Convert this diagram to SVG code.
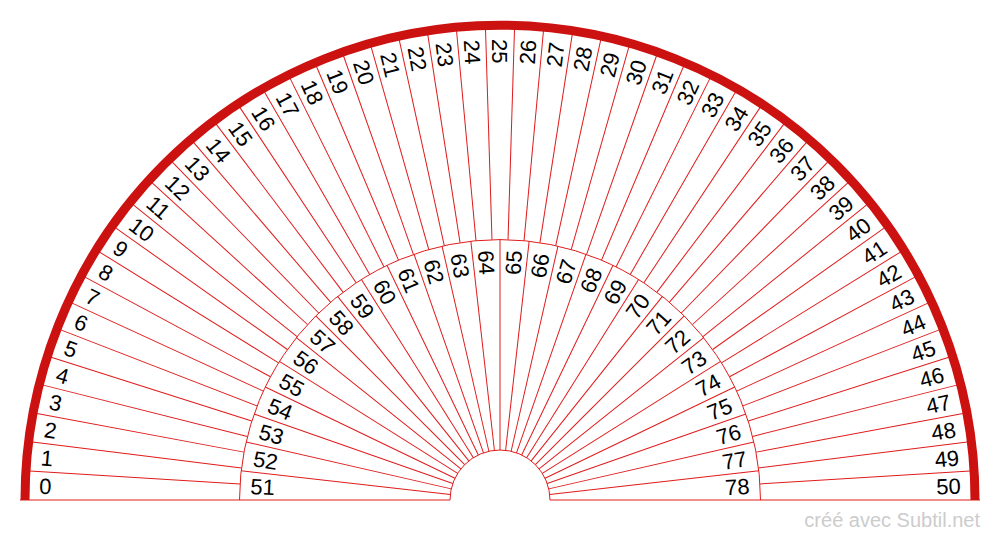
<svg xmlns="http://www.w3.org/2000/svg" width="1000" height="540" viewBox="0 0 1000 540">
<style>
.ln{stroke:#e01b1b;stroke-width:1;fill:none}
.arc{stroke:#e01b1b;stroke-width:1;fill:none}
.rim{stroke:#cc1111;stroke-width:9;fill:none}
.t{font-family:"Liberation Sans",Arial,sans-serif;font-size:22px;fill:#000}
.l{text-anchor:start}
.r{text-anchor:end}
.wm{font-family:"Liberation Sans",Arial,sans-serif;font-size:20px;fill:#cccccc;text-anchor:end}
</style>
<rect width="1000" height="540" fill="#fff"/>
<g id="arcs">
<path class="arc" d="M 239.5 500 A 260.5 260.5 0 0 1 760.5 500"/>
<path class="arc" d="M 450 500 A 50 50 0 0 1 550 500"/>
<line class="ln" x1="20" y1="500" x2="450" y2="500"/>
<line class="ln" x1="550" y1="500" x2="980" y2="500"/>
</g>
<g id="connectors">
<g id="outer-lines">
<line class="ln" x1="29" y1="500" x2="239.5" y2="500" transform="rotate(3.5294 500 500)"/>
<line class="ln" x1="29" y1="500" x2="239.5" y2="500" transform="rotate(7.0588 500 500)"/>
<line class="ln" x1="29" y1="500" x2="239.5" y2="500" transform="rotate(10.5882 500 500)"/>
<line class="ln" x1="29" y1="500" x2="239.5" y2="500" transform="rotate(14.1176 500 500)"/>
<line class="ln" x1="29" y1="500" x2="239.5" y2="500" transform="rotate(17.6471 500 500)"/>
<line class="ln" x1="29" y1="500" x2="239.5" y2="500" transform="rotate(21.1765 500 500)"/>
<line class="ln" x1="29" y1="500" x2="239.5" y2="500" transform="rotate(24.7059 500 500)"/>
<line class="ln" x1="29" y1="500" x2="239.5" y2="500" transform="rotate(28.2353 500 500)"/>
<line class="ln" x1="29" y1="500" x2="239.5" y2="500" transform="rotate(31.7647 500 500)"/>
<line class="ln" x1="29" y1="500" x2="239.5" y2="500" transform="rotate(35.2941 500 500)"/>
<line class="ln" x1="29" y1="500" x2="239.5" y2="500" transform="rotate(38.8235 500 500)"/>
<line class="ln" x1="29" y1="500" x2="239.5" y2="500" transform="rotate(42.3529 500 500)"/>
<line class="ln" x1="29" y1="500" x2="239.5" y2="500" transform="rotate(45.8824 500 500)"/>
<line class="ln" x1="29" y1="500" x2="239.5" y2="500" transform="rotate(49.4118 500 500)"/>
<line class="ln" x1="29" y1="500" x2="239.5" y2="500" transform="rotate(52.9412 500 500)"/>
<line class="ln" x1="29" y1="500" x2="239.5" y2="500" transform="rotate(56.4706 500 500)"/>
<line class="ln" x1="29" y1="500" x2="239.5" y2="500" transform="rotate(60 500 500)"/>
<line class="ln" x1="29" y1="500" x2="239.5" y2="500" transform="rotate(63.5294 500 500)"/>
<line class="ln" x1="29" y1="500" x2="239.5" y2="500" transform="rotate(67.0588 500 500)"/>
<line class="ln" x1="29" y1="500" x2="239.5" y2="500" transform="rotate(70.5882 500 500)"/>
<line class="ln" x1="29" y1="500" x2="239.5" y2="500" transform="rotate(74.1176 500 500)"/>
<line class="ln" x1="29" y1="500" x2="239.5" y2="500" transform="rotate(77.6471 500 500)"/>
<line class="ln" x1="29" y1="500" x2="239.5" y2="500" transform="rotate(81.1765 500 500)"/>
<line class="ln" x1="29" y1="500" x2="239.5" y2="500" transform="rotate(84.7059 500 500)"/>
<line class="ln" x1="29" y1="500" x2="239.5" y2="500" transform="rotate(88.2353 500 500)"/>
<line class="ln" x1="29" y1="500" x2="239.5" y2="500" transform="rotate(91.7647 500 500)"/>
<line class="ln" x1="29" y1="500" x2="239.5" y2="500" transform="rotate(95.2941 500 500)"/>
<line class="ln" x1="29" y1="500" x2="239.5" y2="500" transform="rotate(98.8235 500 500)"/>
<line class="ln" x1="29" y1="500" x2="239.5" y2="500" transform="rotate(102.3529 500 500)"/>
<line class="ln" x1="29" y1="500" x2="239.5" y2="500" transform="rotate(105.8824 500 500)"/>
<line class="ln" x1="29" y1="500" x2="239.5" y2="500" transform="rotate(109.4118 500 500)"/>
<line class="ln" x1="29" y1="500" x2="239.5" y2="500" transform="rotate(112.9412 500 500)"/>
<line class="ln" x1="29" y1="500" x2="239.5" y2="500" transform="rotate(116.4706 500 500)"/>
<line class="ln" x1="29" y1="500" x2="239.5" y2="500" transform="rotate(120 500 500)"/>
<line class="ln" x1="29" y1="500" x2="239.5" y2="500" transform="rotate(123.5294 500 500)"/>
<line class="ln" x1="29" y1="500" x2="239.5" y2="500" transform="rotate(127.0588 500 500)"/>
<line class="ln" x1="29" y1="500" x2="239.5" y2="500" transform="rotate(130.5882 500 500)"/>
<line class="ln" x1="29" y1="500" x2="239.5" y2="500" transform="rotate(134.1176 500 500)"/>
<line class="ln" x1="29" y1="500" x2="239.5" y2="500" transform="rotate(137.6471 500 500)"/>
<line class="ln" x1="29" y1="500" x2="239.5" y2="500" transform="rotate(141.1765 500 500)"/>
<line class="ln" x1="29" y1="500" x2="239.5" y2="500" transform="rotate(144.7059 500 500)"/>
<line class="ln" x1="29" y1="500" x2="239.5" y2="500" transform="rotate(148.2353 500 500)"/>
<line class="ln" x1="29" y1="500" x2="239.5" y2="500" transform="rotate(151.7647 500 500)"/>
<line class="ln" x1="29" y1="500" x2="239.5" y2="500" transform="rotate(155.2941 500 500)"/>
<line class="ln" x1="29" y1="500" x2="239.5" y2="500" transform="rotate(158.8235 500 500)"/>
<line class="ln" x1="29" y1="500" x2="239.5" y2="500" transform="rotate(162.3529 500 500)"/>
<line class="ln" x1="29" y1="500" x2="239.5" y2="500" transform="rotate(165.8824 500 500)"/>
<line class="ln" x1="29" y1="500" x2="239.5" y2="500" transform="rotate(169.4118 500 500)"/>
<line class="ln" x1="29" y1="500" x2="239.5" y2="500" transform="rotate(172.9412 500 500)"/>
<line class="ln" x1="29" y1="500" x2="239.5" y2="500" transform="rotate(176.4706 500 500)"/>
</g>
<g id="inner-lines">
<line class="ln" x1="239.5" y1="500" x2="450" y2="500" transform="rotate(6.4286 500 500)"/>
<line class="ln" x1="239.5" y1="500" x2="450" y2="500" transform="rotate(12.8571 500 500)"/>
<line class="ln" x1="239.5" y1="500" x2="450" y2="500" transform="rotate(19.2857 500 500)"/>
<line class="ln" x1="239.5" y1="500" x2="450" y2="500" transform="rotate(25.7143 500 500)"/>
<line class="ln" x1="239.5" y1="500" x2="450" y2="500" transform="rotate(32.1429 500 500)"/>
<line class="ln" x1="239.5" y1="500" x2="450" y2="500" transform="rotate(38.5714 500 500)"/>
<line class="ln" x1="239.5" y1="500" x2="450" y2="500" transform="rotate(45 500 500)"/>
<line class="ln" x1="239.5" y1="500" x2="450" y2="500" transform="rotate(51.4286 500 500)"/>
<line class="ln" x1="239.5" y1="500" x2="450" y2="500" transform="rotate(57.8571 500 500)"/>
<line class="ln" x1="239.5" y1="500" x2="450" y2="500" transform="rotate(64.2857 500 500)"/>
<line class="ln" x1="239.5" y1="500" x2="450" y2="500" transform="rotate(70.7143 500 500)"/>
<line class="ln" x1="239.5" y1="500" x2="450" y2="500" transform="rotate(77.1429 500 500)"/>
<line class="ln" x1="239.5" y1="500" x2="450" y2="500" transform="rotate(83.5714 500 500)"/>
<line class="ln" x1="239.5" y1="500" x2="450" y2="500" transform="rotate(90 500 500)"/>
<line class="ln" x1="239.5" y1="500" x2="450" y2="500" transform="rotate(96.4286 500 500)"/>
<line class="ln" x1="239.5" y1="500" x2="450" y2="500" transform="rotate(102.8571 500 500)"/>
<line class="ln" x1="239.5" y1="500" x2="450" y2="500" transform="rotate(109.2857 500 500)"/>
<line class="ln" x1="239.5" y1="500" x2="450" y2="500" transform="rotate(115.7143 500 500)"/>
<line class="ln" x1="239.5" y1="500" x2="450" y2="500" transform="rotate(122.1429 500 500)"/>
<line class="ln" x1="239.5" y1="500" x2="450" y2="500" transform="rotate(128.5714 500 500)"/>
<line class="ln" x1="239.5" y1="500" x2="450" y2="500" transform="rotate(135 500 500)"/>
<line class="ln" x1="239.5" y1="500" x2="450" y2="500" transform="rotate(141.4286 500 500)"/>
<line class="ln" x1="239.5" y1="500" x2="450" y2="500" transform="rotate(147.8571 500 500)"/>
<line class="ln" x1="239.5" y1="500" x2="450" y2="500" transform="rotate(154.2857 500 500)"/>
<line class="ln" x1="239.5" y1="500" x2="450" y2="500" transform="rotate(160.7143 500 500)"/>
<line class="ln" x1="239.5" y1="500" x2="450" y2="500" transform="rotate(167.1429 500 500)"/>
<line class="ln" x1="239.5" y1="500" x2="450" y2="500" transform="rotate(173.5714 500 500)"/>
</g>
</g>
<g id="rim">
<path class="rim" d="M 25 500 A 475 475 0 0 1 975 500"/>
</g>
<g id="outer-labels" class="t">
<text class="l" x="39" y="500" dy="0.36em" transform="rotate(1.7647 500 500)">0</text>
<text class="l" x="39" y="500" dy="0.36em" transform="rotate(5.2941 500 500)">1</text>
<text class="l" x="39" y="500" dy="0.36em" transform="rotate(8.8235 500 500)">2</text>
<text class="l" x="39" y="500" dy="0.36em" transform="rotate(12.3529 500 500)">3</text>
<text class="l" x="39" y="500" dy="0.36em" transform="rotate(15.8824 500 500)">4</text>
<text class="l" x="39" y="500" dy="0.36em" transform="rotate(19.4118 500 500)">5</text>
<text class="l" x="39" y="500" dy="0.36em" transform="rotate(22.9412 500 500)">6</text>
<text class="l" x="39" y="500" dy="0.36em" transform="rotate(26.4706 500 500)">7</text>
<text class="l" x="39" y="500" dy="0.36em" transform="rotate(30 500 500)">8</text>
<text class="l" x="39" y="500" dy="0.36em" transform="rotate(33.5294 500 500)">9</text>
<text class="l" x="39" y="500" dy="0.36em" transform="rotate(37.0588 500 500)">10</text>
<text class="l" x="39" y="500" dy="0.36em" transform="rotate(40.5882 500 500)">11</text>
<text class="l" x="39" y="500" dy="0.36em" transform="rotate(44.1176 500 500)">12</text>
<text class="l" x="39" y="500" dy="0.36em" transform="rotate(47.6471 500 500)">13</text>
<text class="l" x="39" y="500" dy="0.36em" transform="rotate(51.1765 500 500)">14</text>
<text class="l" x="39" y="500" dy="0.36em" transform="rotate(54.7059 500 500)">15</text>
<text class="l" x="39" y="500" dy="0.36em" transform="rotate(58.2353 500 500)">16</text>
<text class="l" x="39" y="500" dy="0.36em" transform="rotate(61.7647 500 500)">17</text>
<text class="l" x="39" y="500" dy="0.36em" transform="rotate(65.2941 500 500)">18</text>
<text class="l" x="39" y="500" dy="0.36em" transform="rotate(68.8235 500 500)">19</text>
<text class="l" x="39" y="500" dy="0.36em" transform="rotate(72.3529 500 500)">20</text>
<text class="l" x="39" y="500" dy="0.36em" transform="rotate(75.8824 500 500)">21</text>
<text class="l" x="39" y="500" dy="0.36em" transform="rotate(79.4118 500 500)">22</text>
<text class="l" x="39" y="500" dy="0.36em" transform="rotate(82.9412 500 500)">23</text>
<text class="l" x="39" y="500" dy="0.36em" transform="rotate(86.4706 500 500)">24</text>
<text class="l" x="39" y="500" dy="0.36em" transform="rotate(90 500 500)">25</text>
<text class="r" x="961" y="500" dy="0.36em" transform="rotate(-86.4706 500 500)">26</text>
<text class="r" x="961" y="500" dy="0.36em" transform="rotate(-82.9412 500 500)">27</text>
<text class="r" x="961" y="500" dy="0.36em" transform="rotate(-79.4118 500 500)">28</text>
<text class="r" x="961" y="500" dy="0.36em" transform="rotate(-75.8824 500 500)">29</text>
<text class="r" x="961" y="500" dy="0.36em" transform="rotate(-72.3529 500 500)">30</text>
<text class="r" x="961" y="500" dy="0.36em" transform="rotate(-68.8235 500 500)">31</text>
<text class="r" x="961" y="500" dy="0.36em" transform="rotate(-65.2941 500 500)">32</text>
<text class="r" x="961" y="500" dy="0.36em" transform="rotate(-61.7647 500 500)">33</text>
<text class="r" x="961" y="500" dy="0.36em" transform="rotate(-58.2353 500 500)">34</text>
<text class="r" x="961" y="500" dy="0.36em" transform="rotate(-54.7059 500 500)">35</text>
<text class="r" x="961" y="500" dy="0.36em" transform="rotate(-51.1765 500 500)">36</text>
<text class="r" x="961" y="500" dy="0.36em" transform="rotate(-47.6471 500 500)">37</text>
<text class="r" x="961" y="500" dy="0.36em" transform="rotate(-44.1176 500 500)">38</text>
<text class="r" x="961" y="500" dy="0.36em" transform="rotate(-40.5882 500 500)">39</text>
<text class="r" x="961" y="500" dy="0.36em" transform="rotate(-37.0588 500 500)">40</text>
<text class="r" x="961" y="500" dy="0.36em" transform="rotate(-33.5294 500 500)">41</text>
<text class="r" x="961" y="500" dy="0.36em" transform="rotate(-30 500 500)">42</text>
<text class="r" x="961" y="500" dy="0.36em" transform="rotate(-26.4706 500 500)">43</text>
<text class="r" x="961" y="500" dy="0.36em" transform="rotate(-22.9412 500 500)">44</text>
<text class="r" x="961" y="500" dy="0.36em" transform="rotate(-19.4118 500 500)">45</text>
<text class="r" x="961" y="500" dy="0.36em" transform="rotate(-15.8824 500 500)">46</text>
<text class="r" x="961" y="500" dy="0.36em" transform="rotate(-12.3529 500 500)">47</text>
<text class="r" x="961" y="500" dy="0.36em" transform="rotate(-8.8235 500 500)">48</text>
<text class="r" x="961" y="500" dy="0.36em" transform="rotate(-5.2941 500 500)">49</text>
<text class="r" x="961" y="500" dy="0.36em" transform="rotate(-1.7647 500 500)">50</text>
</g>
<g id="inner-labels" class="t">
<text class="l" x="250" y="500" dy="0.36em" transform="rotate(3.2143 500 500)">51</text>
<text class="l" x="250" y="500" dy="0.36em" transform="rotate(9.6429 500 500)">52</text>
<text class="l" x="250" y="500" dy="0.36em" transform="rotate(16.0714 500 500)">53</text>
<text class="l" x="250" y="500" dy="0.36em" transform="rotate(22.5 500 500)">54</text>
<text class="l" x="250" y="500" dy="0.36em" transform="rotate(28.9286 500 500)">55</text>
<text class="l" x="250" y="500" dy="0.36em" transform="rotate(35.3571 500 500)">56</text>
<text class="l" x="250" y="500" dy="0.36em" transform="rotate(41.7857 500 500)">57</text>
<text class="l" x="250" y="500" dy="0.36em" transform="rotate(48.2143 500 500)">58</text>
<text class="l" x="250" y="500" dy="0.36em" transform="rotate(54.6429 500 500)">59</text>
<text class="l" x="250" y="500" dy="0.36em" transform="rotate(61.0714 500 500)">60</text>
<text class="l" x="250" y="500" dy="0.36em" transform="rotate(67.5 500 500)">61</text>
<text class="l" x="250" y="500" dy="0.36em" transform="rotate(73.9286 500 500)">62</text>
<text class="l" x="250" y="500" dy="0.36em" transform="rotate(80.3571 500 500)">63</text>
<text class="l" x="250" y="500" dy="0.36em" transform="rotate(86.7857 500 500)">64</text>
<text class="r" x="750" y="500" dy="0.36em" transform="rotate(-86.7857 500 500)">65</text>
<text class="r" x="750" y="500" dy="0.36em" transform="rotate(-80.3571 500 500)">66</text>
<text class="r" x="750" y="500" dy="0.36em" transform="rotate(-73.9286 500 500)">67</text>
<text class="r" x="750" y="500" dy="0.36em" transform="rotate(-67.5 500 500)">68</text>
<text class="r" x="750" y="500" dy="0.36em" transform="rotate(-61.0714 500 500)">69</text>
<text class="r" x="750" y="500" dy="0.36em" transform="rotate(-54.6429 500 500)">70</text>
<text class="r" x="750" y="500" dy="0.36em" transform="rotate(-48.2143 500 500)">71</text>
<text class="r" x="750" y="500" dy="0.36em" transform="rotate(-41.7857 500 500)">72</text>
<text class="r" x="750" y="500" dy="0.36em" transform="rotate(-35.3571 500 500)">73</text>
<text class="r" x="750" y="500" dy="0.36em" transform="rotate(-28.9286 500 500)">74</text>
<text class="r" x="750" y="500" dy="0.36em" transform="rotate(-22.5 500 500)">75</text>
<text class="r" x="750" y="500" dy="0.36em" transform="rotate(-16.0714 500 500)">76</text>
<text class="r" x="750" y="500" dy="0.36em" transform="rotate(-9.6429 500 500)">77</text>
<text class="r" x="750" y="500" dy="0.36em" transform="rotate(-3.2143 500 500)">78</text>
</g>
<g id="watermark">
<text class="wm" x="980" y="527">créé avec Subtil.net</text>
</g>
</svg>
